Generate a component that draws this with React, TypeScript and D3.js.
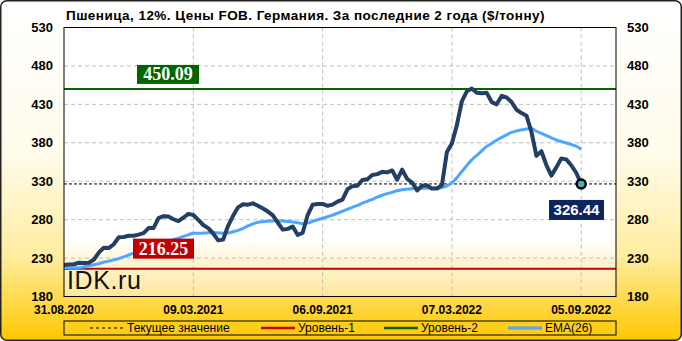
import React from "react";
import * as d3 from "d3";

const title = "Пшеница, 12%. Цены FOB. Германия. За последние 2 года ($/тонну)";
const xTickIdx = [0, 26, 52, 78, 104];
const xTickLabels = ["31.08.2020", "09.03.2021", "06.09.2021", "07.03.2022", "05.09.2022"];
const yTicks = [180, 230, 280, 330, 380, 430, 480, 530];
const level1 = 216.25;
const level2 = 450.09;
const current = 326.44;

const price = [
  221, 221.5, 222, 224, 223.5, 224, 228, 237, 243.5, 243, 248, 257, 257.5, 259, 259, 260.5,
  262.5, 269, 269, 282, 284.5, 284, 280.5, 278, 282.5, 287.5, 286, 279.6, 273, 269, 262,
  253, 254, 272, 285, 296, 300, 299.5, 301.2, 298, 294.5, 290.5, 285.5, 276, 267, 268,
  271, 260, 263, 286, 299.5, 300.4, 300.4, 298, 299.5, 303.4, 306, 319.5, 323.6, 324,
  331.6, 332.6, 338.2, 339.2, 342.2, 341.5, 344, 332, 345, 333, 328.3, 318, 324, 324.6,
  320.4, 320.5, 325, 368, 379, 403, 434, 447, 450.5, 445, 444.5, 445, 433, 430, 441, 439,
  433, 423, 418.7, 415.3, 394, 363, 369, 351, 337.3, 348, 359.5, 358.4, 350.8, 341, 326.44,
];

const ema = [
  217.5, 217.5, 217.5, 217.5, 218.5, 220, 221.2, 222.8, 224.5, 226, 227.6, 229.3, 231.6,
  234, 236.4, 238.8, 241.2, 243.5, 245.6, 247.7, 249.8, 251.8, 254, 256, 258, 260.2, 262.2,
  262.2, 262.5, 262.8, 263, 262.7, 262.4, 262.6, 264.3, 266, 268.5, 271.8, 274.5, 276.5,
  277.4, 277.9, 278.3, 278.7, 278.1, 277.6, 277, 276, 274.8, 275.5, 277.8, 279.8, 281.8,
  283.8, 285.8, 288.3, 290.9, 293.5, 296, 298.5, 301.4, 303.8, 306.5, 309.2, 311.7, 313.8,
  315.6, 317.6, 318.9, 319.7, 320.3, 320.8, 320.8, 320.8, 320.8, 320.8, 321.8, 324, 327.8,
  334.5, 342.5, 350.5, 357.8, 363.6, 369.5, 375.3, 379.2, 383.3, 387, 390.3, 393.5, 395.4,
  396.8, 398, 398.5, 395, 392.2, 389.3, 386.5, 383.6, 381.7, 379.7, 377.7, 375.5, 371.5,
];

const legendItems = [
  { label: "Текущее значение", color: "#000", dash: "3,3", width: 1 },
  { label: "Уровень-1", color: "#CC0000", dash: null, width: 2.5 },
  { label: "Уровень-2", color: "#006600", dash: null, width: 2.5 },
  { label: "EMA(26)", color: "#4DA6FF", dash: null, width: 3 },
];

export default function App() {
  const W = 682, H = 341;
  const L = 64, R = 616, T = 27.5, B = 296.5;
  const x = d3.scaleLinear().domain([0, 111]).range([L, R]);
  const y = d3.scaleLinear().domain([180, 530]).range([B, T]);
  const line = d3.line<number>().x((_, i) => x(i)).y((d) => y(d));
  const emaLine = d3.line<number>().x((_, i) => x(i)).y((d) => y(d)).curve(d3.curveMonotoneX);
  const lastI = price.length - 1;
  const sans = "'Liberation Sans', Arial, sans-serif";
  const legX = [90, 261, 384, 508];

  return (
    <svg width={W} height={H} style={{ position: "absolute", left: 0, top: 0 }}
      fontFamily={sans}>
      <defs>
        <linearGradient id="bg" x1="0" y1="0" x2="0" y2="1">
          <stop offset="0%" stopColor="#FFFFFF" />
          <stop offset="45%" stopColor="#FFFCEB" />
          <stop offset="75%" stopColor="#FFEDA0" />
          <stop offset="100%" stopColor="#FFC800" />
        </linearGradient>
        <linearGradient id="plotbg" x1="0" y1="0" x2="0" y2="1">
          <stop offset="0%" stopColor="#FFFFFF" />
          <stop offset="78%" stopColor="#FFFFFF" />
          <stop offset="100%" stopColor="#FFE79A" />
        </linearGradient>
        <clipPath id="clip">
          <rect x={L} y={T} width={R - L} height={B - T} />
        </clipPath>
      </defs>
      <rect x={0.75} y={0.75} width={W - 1.5} height={H - 1.5} rx={6} fill="url(#bg)" stroke="#222" strokeWidth={1.5} />
      <text x={66} y={20} fontSize={13.5} letterSpacing={0.45} fontWeight="bold" fill="#000">{title}</text>

      <rect x={L} y={T} width={R - L} height={B - T} fill="url(#plotbg)" />
      {yTicks.slice(1, -1).map((t) => (
        <line key={"gy" + t} x1={L} x2={R} y1={y(t)} y2={y(t)} stroke="#C0C0C0" strokeDasharray="4,3" />
      ))}
      {xTickIdx.slice(1).map((t) => (
        <line key={"gx" + t} x1={x(t)} x2={x(t)} y1={T} y2={B} stroke="#C0C0C0" strokeDasharray="4,3" />
      ))}

      <text x={67} y={289} fontSize={25} letterSpacing={0.6} fill="#111">IDK.ru</text>

      <g clipPath="url(#clip)">
        <line x1={L} x2={R} y1={y(level2)} y2={y(level2)} stroke="#006600" strokeWidth={2} />
        <line x1={L} x2={R} y1={y(level1)} y2={y(level1)} stroke="#CC0000" strokeWidth={2} />
        <line x1={L} x2={R} y1={y(current)} y2={y(current)} stroke="#000" strokeWidth={1} strokeDasharray="3,2" />
        <path d={emaLine(ema) || ""} fill="none" stroke="#4DA6FF" strokeWidth={3} strokeLinejoin="round" />
        <path d={line(price) || ""} fill="none" stroke="#233F63" strokeWidth={4} strokeLinejoin="round" strokeLinecap="round" />
      </g>
      <circle cx={x(lastI)} cy={y(price[lastI])} r={4.5} fill="#4BACC6" stroke="#000" strokeWidth={2.5} />

      <rect x={L} y={T} width={R - L} height={B - T} fill="none" stroke="#000" strokeWidth={1} />

      <rect x={137} y={y(level2) - 24} width={62} height={19} fill="#006600" />
      <text x={168} y={y(level2) - 8.5} textAnchor="middle" fontSize={18} fontWeight="bold" fill="#fff"
        fontFamily="'Liberation Serif', 'Times New Roman', serif">{level2.toFixed(2)}</text>
      <rect x={133} y={y(level1) - 30} width={61} height={20} fill="#C00000" />
      <text x={163.5} y={y(level1) - 14} textAnchor="middle" fontSize={18} fontWeight="bold" fill="#fff"
        fontFamily="'Liberation Serif', 'Times New Roman', serif">{level1.toFixed(2)}</text>
      <rect x={549} y={y(current) + 16} width={55} height={20} fill="#0B2560" />
      <text x={576.5} y={y(current) + 31} textAnchor="middle" fontSize={15} fontWeight="bold" fill="#fff">{current.toFixed(2)}</text>

      {yTicks.map((t) => (
        <g key={"yl" + t} fontSize={13} fontWeight="bold" fill="#000">
          <text x={53} y={y(t)} dy="0.35em" textAnchor="end">{t}</text>
          <text x={627} y={y(t)} dy="0.35em" textAnchor="start">{t}</text>
        </g>
      ))}
      {xTickIdx.map((t, k) => (
        <text key={"xl" + t} x={x(t)} y={314} textAnchor="middle" fontSize={12} fontWeight="bold" fill="#000">{xTickLabels[k]}</text>
      ))}

      <rect x={L} y={321} width={R - L} height={14} fill="none" stroke="#000" strokeWidth={1} />
      {legendItems.map((it, k) => (
        <g key={"lg" + k}>
          <line x1={legX[k]} x2={legX[k] + 34} y1={328} y2={328} stroke={it.color} strokeWidth={it.width}
            strokeDasharray={it.dash || undefined} />
          <text x={legX[k] + 37} y={332} fontSize={12} fill="#000">{it.label}</text>
        </g>
      ))}
    </svg>
  );
}
